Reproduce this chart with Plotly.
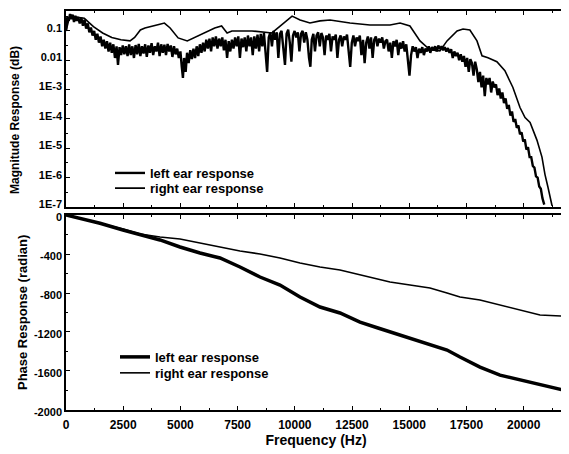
import plotly.graph_objects as go

# ---------------- data ----------------
# Magnitude response, left ear (noisy trace)
mag_left_f = [0, 60, 120, 175, 230, 290, 350, 410, 470, 530, 600, 670, 740, 810, 880, 950, 1020, 1090, 1160, 1230,
              1300, 1370, 1440, 1510, 1580, 1650, 1720, 1790, 1860, 1930, 2000, 2070, 2140, 2210, 2272, 2340, 2410,
              2480, 2550, 2620, 2690, 2760, 2830, 2900, 2970, 3040, 3110, 3180, 3250, 3320, 3390, 3460, 3530, 3600,
              3670, 3740, 3810, 3880, 3950, 4020, 4090, 4160, 4230, 4300, 4370, 4440, 4510, 4580, 4650, 4720, 4790,
              4860, 4930, 5000, 5060, 5110, 5160, 5230, 5290, 5360, 5430, 5500, 5570, 5640, 5710, 5780, 5850, 5920,
              5990, 6060, 6130, 6200, 6270, 6340, 6410, 6480, 6550, 6620, 6690, 6760, 6830, 6900, 6970, 7040, 7110,
              7180, 7250, 7320, 7390, 7460, 7530, 7600, 7670, 7740, 7810, 7880, 7950, 8020, 8090, 8160, 8230, 8300,
              8370, 8440, 8510, 8580, 8650, 8720, 8790, 8860, 8930, 9000, 9070, 9140, 9210, 9280, 9350, 9420, 9490,
              9570, 9640, 9710, 9780, 9850, 9920, 9990, 10060, 10130, 10200, 10270, 10340, 10410, 10480, 10550, 10620,
              10680, 10740, 10810, 10880, 10950, 11020, 11090, 11160, 11230, 11300, 11370, 11440, 11510, 11580, 11650,
              11720, 11790, 11860, 11930, 12000, 12070, 12140, 12210, 12280, 12350, 12420, 12490, 12560, 12630, 12700,
              12770, 12840, 12910, 12980, 13050, 13120, 13190, 13260, 13330, 13400, 13470, 13540, 13610, 13680, 13750,
              13820, 13890, 13960, 14030, 14100, 14170, 14240, 14310, 14380, 14450, 14520, 14590, 14660, 14730, 14800,
              14870, 14940, 15010, 15080, 15150, 15220, 15290, 15360, 15430, 15500, 15570, 15640, 15710, 15780, 15850,
              15920, 15990, 16060, 16130, 16200, 16270, 16340, 16410, 16480, 16550, 16620, 16690, 16760, 16830, 16900,
              16970, 17040, 17110, 17180, 17250, 17320, 17390, 17460, 17530, 17600, 17670, 17740, 17810, 17880, 17950,
              18020, 18090, 18160, 18230, 18300, 18370, 18440, 18510, 18580, 18650, 18720, 18790, 18860, 18930, 19000,
              19070, 19140, 19210, 19280, 19350, 19420, 19490, 19560, 19630, 19700, 19770, 19840, 19910, 19980, 20050,
              20120, 20190, 20260, 20330, 20400, 20470, 20540, 20610, 20680, 20750, 20820, 20900]
mag_left_v = [0.1, 0.3, 0.22, 0.38, 0.25, 0.36, 0.2, 0.33, 0.22, 0.3, 0.18, 0.28, 0.15, 0.24, 0.12, 0.18, 0.09, 0.13,
              0.07, 0.1, 0.05, 0.08, 0.04, 0.065, 0.03, 0.05, 0.025, 0.045, 0.02, 0.04, 0.018, 0.035, 0.012, 0.03,
              0.007, 0.028, 0.015, 0.032, 0.016, 0.03, 0.014, 0.035, 0.015, 0.03, 0.012, 0.033, 0.016, 0.036, 0.014,
              0.03, 0.017, 0.035, 0.013, 0.032, 0.018, 0.038, 0.015, 0.03, 0.02, 0.04, 0.014, 0.035, 0.018, 0.034,
              0.015, 0.036, 0.02, 0.032, 0.013, 0.03, 0.016, 0.025, 0.012, 0.02, 0.006, 0.0025, 0.012, 0.004, 0.018,
              0.008, 0.022, 0.011, 0.025, 0.012, 0.03, 0.014, 0.035, 0.018, 0.04, 0.02, 0.05, 0.025, 0.055, 0.02,
              0.06, 0.03, 0.065, 0.025, 0.055, 0.03, 0.06, 0.022, 0.05, 0.012, 0.045, 0.02, 0.05, 0.025, 0.06, 0.03,
              0.065, 0.012, 0.055, 0.028, 0.06, 0.02, 0.07, 0.03, 0.06, 0.015, 0.065, 0.025, 0.075, 0.02, 0.08, 0.03,
              0.085, 0.012, 0.004, 0.06, 0.09, 0.03, 0.1, 0.05, 0.09, 0.012, 0.08, 0.1, 0.03, 0.007, 0.08, 0.11, 0.04,
              0.009, 0.07, 0.1, 0.06, 0.09, 0.02, 0.08, 0.1, 0.04, 0.09, 0.05, 0.012, 0.006, 0.05, 0.08, 0.02, 0.07,
              0.09, 0.03, 0.085, 0.06, 0.015, 0.07, 0.05, 0.08, 0.02, 0.065, 0.05, 0.075, 0.012, 0.05, 0.07, 0.03,
              0.065, 0.05, 0.075, 0.02, 0.006, 0.04, 0.07, 0.03, 0.06, 0.045, 0.07, 0.015, 0.05, 0.008, 0.04, 0.065,
              0.025, 0.06, 0.012, 0.05, 0.065, 0.03, 0.055, 0.04, 0.06, 0.025, 0.045, 0.05, 0.02, 0.04, 0.012, 0.045,
              0.03, 0.05, 0.015, 0.04, 0.025, 0.045, 0.02, 0.035, 0.008, 0.003, 0.015, 0.03, 0.02, 0.028, 0.012,
              0.025, 0.018, 0.028, 0.015, 0.025, 0.02, 0.03, 0.018, 0.028, 0.022, 0.03, 0.02, 0.032, 0.024, 0.03,
              0.022, 0.028, 0.02, 0.026, 0.018, 0.024, 0.012, 0.02, 0.014, 0.018, 0.01, 0.016, 0.009, 0.014, 0.006,
              0.012, 0.004, 0.011, 0.008, 0.003, 0.009, 0.005, 0.0018, 0.004, 0.0012, 0.003, 0.0006, 0.0025, 0.0015,
              0.0025, 0.0008, 0.0019, 0.0012, 0.0015, 0.00065, 0.0011, 0.0005, 0.0008, 0.00035, 0.0005, 0.00022,
              0.0003, 0.00013, 0.00018, 0.00008, 0.0001, 0.00005, 0.00006, 0.00003, 0.000035, 0.000017, 0.00002,
              0.000009, 0.000011, 0.000005, 0.000005, 0.0000025, 0.0000022, 0.0000011, 0.000001, 0.0000005,
              0.00000042, 0.0000002, 0.00000012]

# Magnitude response, right ear (smooth trace)
mag_right_f = [0, 175, 400, 800, 1200, 1600, 2000, 2400, 2800, 3000, 3250, 3450, 4100, 4300, 4550, 4900, 5300, 6070,
               6500, 6800, 7040, 7250, 8130, 9000, 9440, 9880, 10230, 10660, 11100, 11540, 12410, 13280, 14160,
               14600, 15030, 15470, 15900, 16340, 16650, 17090, 17350, 17650, 17960, 18180, 18440, 18830, 19180,
               19530, 19840, 20060, 20280, 20580, 20800, 20930, 21060, 21240]
mag_right_v = [0.1, 0.35, 0.3, 0.27, 0.14, 0.085, 0.06, 0.05, 0.046, 0.06, 0.108, 0.126, 0.17, 0.186, 0.126, 0.058,
               0.0458, 0.0855, 0.126, 0.148, 0.0855, 0.1, 0.1, 0.0855, 0.16, 0.32, 0.236, 0.186, 0.22, 0.236, 0.186,
               0.16, 0.16, 0.186, 0.148, 0.0458, 0.0227, 0.021, 0.0458, 0.1, 0.117, 0.108, 0.0458, 0.0142, 0.0122,
               0.0089, 0.0044, 0.00118, 0.000245, 0.000112, 0.000076, 0.000019, 0.000005, 0.0000013, 0.00000048,
               0.00000011]

# Phase response
phase_f = [0, 1486, 2490, 3234, 4108, 4982, 5856, 6730, 7604, 8478, 9352, 10226, 11100, 11974, 12848, 13634, 14159,
           15033, 15907, 16650, 17218, 18092, 18966, 19840, 20714, 21720]
phase_left = [0, -85, -154, -205, -256, -328, -390, -441, -533, -636, -718, -841, -944, -1005, -1098, -1159, -1200,
              -1262, -1334, -1385, -1457, -1560, -1642, -1693, -1744, -1795]
phase_right = [0, -85, -144, -195, -226, -246, -287, -328, -369, -400, -441, -492, -533, -564, -615, -656, -687, -718,
               -749, -800, -841, -872, -923, -975, -1026, -1036]

freq_ticks = [0, 2500, 5000, 7500, 10000, 12500, 15000, 17500, 20000]
freq_tick_text = ["0", "2500", "5000", "7500", "10000", "12500", "15000", "17500", "20000"]
mag_ticks = [1e-7, 1e-6, 1e-5, 1e-4, 1e-3, 0.01, 0.1]
mag_tick_text = ["1E-7", "1E-6", "1E-5", "1E-4", "1E-3", "0.01", "0.1"]
phase_ticks = [-2000, -1600, -1200, -800, -400, 0]
phase_tick_text = ["-2000", "-1600", "-1200", "-800", "-400", "0"]
legend_names = ["left ear response", "right ear response"]

# ---------------- figure ----------------
FONT = "Liberation Sans, Arial, sans-serif"
fig = go.Figure()

fig.add_trace(go.Scatter(x=mag_left_f, y=mag_left_v, mode="lines", name=legend_names[0],
                         line=dict(color="black", width=2.4), xaxis="x", yaxis="y", legend="legend"))
fig.add_trace(go.Scatter(x=mag_right_f, y=mag_right_v, mode="lines", name=legend_names[1],
                         line=dict(color="black", width=1.6), xaxis="x", yaxis="y", legend="legend2"))
fig.add_trace(go.Scatter(x=phase_f, y=phase_left, mode="lines", name=legend_names[0],
                         line=dict(color="black", width=3.5), xaxis="x2", yaxis="y2", legend="legend3"))
fig.add_trace(go.Scatter(x=phase_f, y=phase_right, mode="lines", name=legend_names[1],
                         line=dict(color="black", width=1.6), xaxis="x2", yaxis="y2", legend="legend4"))

axis_common = dict(showline=True, linecolor="black", linewidth=1.5, mirror="allticks",
                   ticks="inside", ticklen=4, tickwidth=1.3, tickcolor="black",
                   showgrid=False, zeroline=False, automargin=False)

yfont = dict(family=FONT, size=11, color="black", weight="bold")
xfont = dict(family=FONT, size=12, color="black", weight="bold")
legfont = dict(family=FONT, size=13, color="black", weight="bold")


def leg(x, y):
    return dict(x=x, y=y, xanchor="left", yanchor="middle", bgcolor="rgba(0,0,0,0)",
                font=legfont, itemwidth=30, borderwidth=0)


# the page body adds an 8 px offset, so the margins are adjusted for it
fig.update_layout(
    width=569, height=454,
    margin=dict(l=58, r=11, t=3, b=52),
    paper_bgcolor="white", plot_bgcolor="white",
    font=dict(family=FONT, color="black"),
    xaxis=dict(domain=[0, 1], anchor="y", range=[0, 21850], tickvals=freq_ticks, showticklabels=False,
               minor=dict(ticks="inside", ticklen=2, dtick=1250, tickcolor="black"), **axis_common),
    yaxis=dict(domain=[0.5088, 1], anchor="x", type="log", range=[-7, -0.32],
               tickvals=mag_ticks, ticktext=mag_tick_text, tickfont=yfont, ticklabelshift=-3,
               minor=dict(ticks="inside", ticklen=2, tickcolor="black",
                          tickvals=[3.16e-7, 3.16e-6, 3.16e-5, 3.16e-4, 3.16e-3, 0.0316, 0.316]),
               **axis_common),
    xaxis2=dict(domain=[0, 1], anchor="y2", range=[0, 21850], tickvals=freq_ticks, ticktext=freq_tick_text,
                tickfont=xfont, ticklabelstandoff=3,
                minor=dict(ticks="inside", ticklen=2, dtick=1250, tickcolor="black"),
                title=dict(text="Frequency (Hz)", standoff=4,
                           font=dict(family=FONT, size=14, color="black", weight="bold")),
                **axis_common),
    yaxis2=dict(domain=[0, 0.4887], anchor="x2", range=[-2000, 0],
                tickvals=phase_ticks, ticktext=phase_tick_text, tickfont=yfont, ticklabelshift=2,
                minor=dict(ticks="inside", ticklen=2, dtick=200, tickcolor="black"),
                **axis_common),
    legend=leg(0.088, 0.594),
    legend2=leg(0.088, 0.556),
    legend3=leg(0.098, 0.133),
    legend4=leg(0.098, 0.093),
    showlegend=True,
    annotations=[
        dict(text="Magnitude Response (dB)", textangle=-90, xref="paper", yref="paper",
             x=-0.102, y=0.727, xanchor="center", yanchor="middle", showarrow=False,
             font=dict(family=FONT, size=12, color="black", weight="bold")),
        dict(text="Phase Response (radian)", textangle=-90, xref="paper", yref="paper",
             x=-0.088, y=0.243, xanchor="center", yanchor="middle", showarrow=False,
             font=dict(family=FONT, size=13, color="black", weight="bold")),
    ],
)

fig.write_html("out.html")
